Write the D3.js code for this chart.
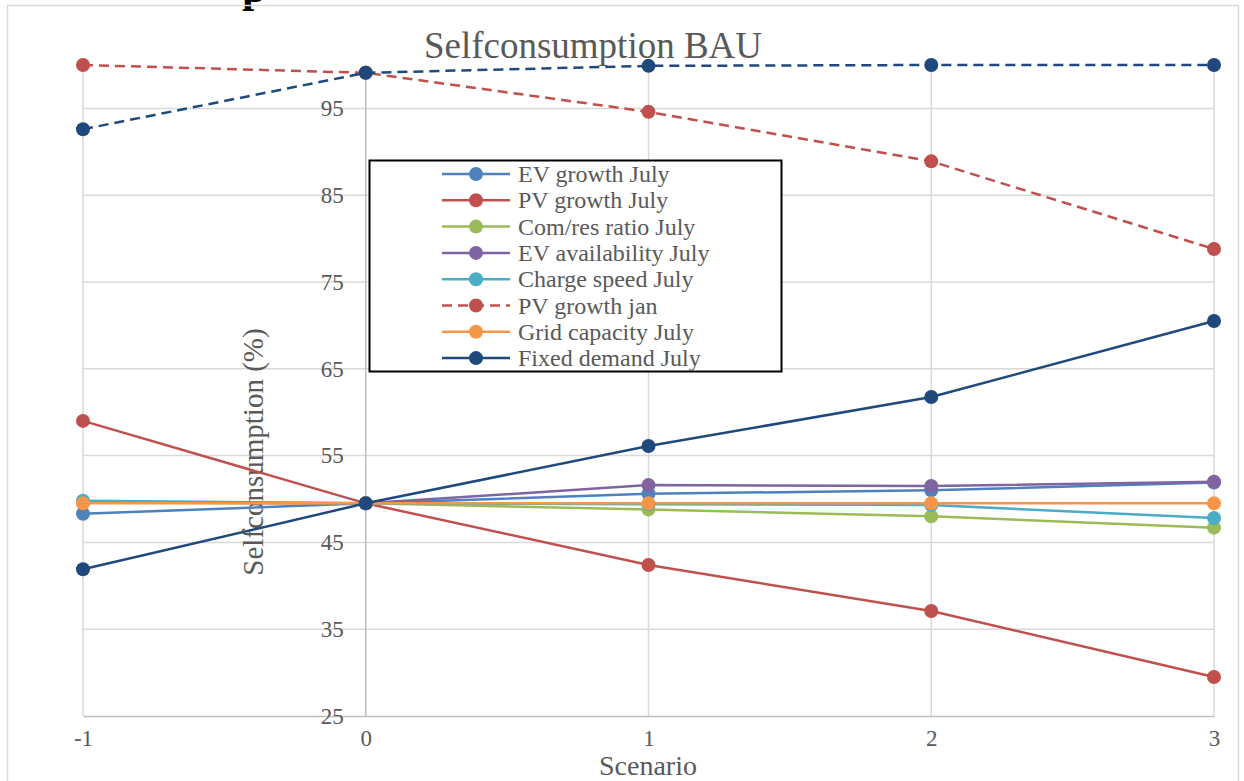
<!DOCTYPE html>
<html>
<head>
<meta charset="utf-8">
<script src="https://cdn.jsdelivr.net/npm/d3@7/dist/d3.min.js"></script>
<style>
  body { margin: 0; background: #fff; }
  svg text { font-family: "Liberation Serif", "DejaVu Serif", serif; fill: #595959; }
</style>
</head>
<body>
<div id="chart"></div>
<script>
// scenarios on the x axis
var scenarios = [-1, 0, 1, 2, 3];
var yTicks = [25, 35, 45, 55, 65, 75, 85, 95];

// selfconsumption (%) per scenario
var evGrowthJuly     = [48.3, 49.5, 50.6, 51.0, 51.9];
var pvGrowthJuly     = [59.0, 49.5, 42.4, 37.1, 29.5];
var comResJuly       = [49.6, 49.5, 48.8, 48.0, 46.7];
var evAvailJuly      = [49.6, 49.5, 51.6, 51.5, 52.0];
var chargeSpeedJuly  = [49.8, 49.5, 49.4, 49.3, 47.8];
var pvGrowthJan      = [100.0, 99.1, 94.6, 88.9, 78.8];
var gridCapJuly      = [49.5, 49.5, 49.5, 49.5, 49.5];
var fixedDemandJuly  = [41.9, 49.5, 56.1, 61.75, 70.5];
var fixedDemandJan   = [92.6, 99.1, 99.9, 100.0, 100.0];

var series = [
  { name: "EV growth July", values: evGrowthJuly, color: "#4F81BD", dash: null, legend: true },
  { name: "PV growth July", values: pvGrowthJuly, color: "#C0504D", dash: null, legend: true },
  { name: "Com/res ratio July", values: comResJuly, color: "#9BBB59", dash: null, legend: true },
  { name: "EV availability July", values: evAvailJuly, color: "#8064A2", dash: null, legend: true },
  { name: "Charge speed July", values: chargeSpeedJuly, color: "#4BACC6", dash: null, legend: true },
  { name: "PV growth jan", values: pvGrowthJan, color: "#C0504D", dash: "10,6", legend: true },
  { name: "Grid capacity July", values: gridCapJuly, color: "#F79646", dash: null, legend: true },
  { name: "Fixed demand July", values: fixedDemandJuly, color: "#1F497D", dash: null, legend: true },
  { name: "Fixed demand jan", values: fixedDemandJan, color: "#1F497D", dash: "10,6", legend: false }
];

var width = 1244, height = 781;

var svg = d3.select("#chart").append("svg")
            .attr("width", width)
            .attr("height", height);

// cut-off heading of the document above the chart
svg.append("text")
   .attr("x", 242).attr("y", 2)
   .style("font-size", "44px").style("font-weight", "bold").style("fill", "#000")
   .text("p");

// chart frame
svg.append("rect")
   .attr("x", 7.5).attr("y", 5.5)
   .attr("width", 1231).attr("height", 800)
   .attr("fill", "none").attr("stroke", "#d9d9d9").attr("stroke-width", 1.5);

var x = d3.scaleLinear().domain([-1, 3]).range([83, 1214]);
var y = d3.scaleLinear().domain([25, 100]).range([716, 65]);

// gridlines
svg.append("g").selectAll("line")
   .data(yTicks.slice(1))
   .enter().append("line")
   .attr("x1", x(-1)).attr("x2", x(3))
   .attr("y1", d => y(d)).attr("y2", d => y(d))
   .attr("stroke", "#d9d9d9").attr("stroke-width", 1.5);

svg.append("g").selectAll("line")
   .data(scenarios.filter(d => d !== 0))
   .enter().append("line")
   .attr("x1", d => x(d)).attr("x2", d => x(d))
   .attr("y1", y(100)).attr("y2", y(25))
   .attr("stroke", "#d9d9d9").attr("stroke-width", 1.5);

// axes
var xAxis = d3.axisBottom(x).tickValues(scenarios).tickSize(0).tickPadding(14).tickFormat(d => String(d));
var gx = svg.append("g").attr("transform", "translate(0," + y(25) + ")").call(xAxis);
gx.select(".domain").attr("stroke", "#bfbfbf").attr("stroke-width", 1.5);
gx.selectAll("text").style("font-size", "23px").attr("fill", "#595959")
  .style("font-family", "Liberation Serif, serif");

var yAxis = d3.axisLeft(y).tickValues(yTicks).tickSize(0).tickPadding(22);
var gy = svg.append("g").attr("transform", "translate(" + x(0) + ",0)").call(yAxis);
gy.select(".domain").attr("d", "M0," + y(100) + "V" + y(25))
  .attr("stroke", "#bfbfbf").attr("stroke-width", 1.5);
gy.selectAll("text").style("font-size", "23px").attr("fill", "#595959")
  .style("font-family", "Liberation Serif, serif");

// titles
svg.append("text")
   .attr("x", 593).attr("y", 58)
   .attr("text-anchor", "middle")
   .style("font-size", "37px")
   .text("Selfconsumption BAU");

svg.append("text")
   .attr("x", 648).attr("y", 775)
   .attr("text-anchor", "middle")
   .style("font-size", "28px")
   .text("Scenario");

svg.append("text")
   .attr("transform", "translate(263,452) rotate(-90)")
   .attr("text-anchor", "middle")
   .style("font-size", "29px")
   .text("Selfconsumption (%)");

// series
var line = d3.line()
             .x((d, i) => x(scenarios[i]))
             .y(d => y(d));

var sg = svg.append("g").selectAll("g")
            .data(series)
            .enter().append("g");

sg.append("path")
  .attr("d", d => line(d.values))
  .attr("fill", "none")
  .attr("stroke", d => d.color)
  .attr("stroke-width", 2.5)
  .attr("stroke-dasharray", d => d.dash);

sg.selectAll("circle")
  .data(d => d.values.map((v, i) => ({ v: v, i: i, color: d.color })))
  .enter().append("circle")
  .attr("cx", d => x(scenarios[d.i]))
  .attr("cy", d => y(d.v))
  .attr("r", 7)
  .attr("fill", d => d.color);

// legend
var legend = svg.append("g").attr("transform", "translate(369,160)");
legend.append("rect")
      .attr("x", 0.5).attr("y", 0.5)
      .attr("width", 412).attr("height", 211)
      .attr("fill", "#fff").attr("stroke", "#000").attr("stroke-width", 2);

var items = legend.selectAll(".item")
                  .data(series.filter(d => d.legend))
                  .enter().append("g")
                  .attr("class", "item")
                  .attr("transform", (d, i) => "translate(0," + (14 + i * 26.3) + ")");

items.append("line")
     .attr("x1", 73).attr("x2", 141)
     .attr("stroke", d => d.color)
     .attr("stroke-width", 2.5)
     .attr("stroke-dasharray", d => d.dash ? "10,6" : null);

items.append("circle")
     .attr("cx", 107).attr("r", 7)
     .attr("fill", d => d.color);

items.append("text")
     .attr("x", 149).attr("y", 8)
     .style("font-size", "24px")
     .text(d => d.name);
</script>
</body>
</html>
